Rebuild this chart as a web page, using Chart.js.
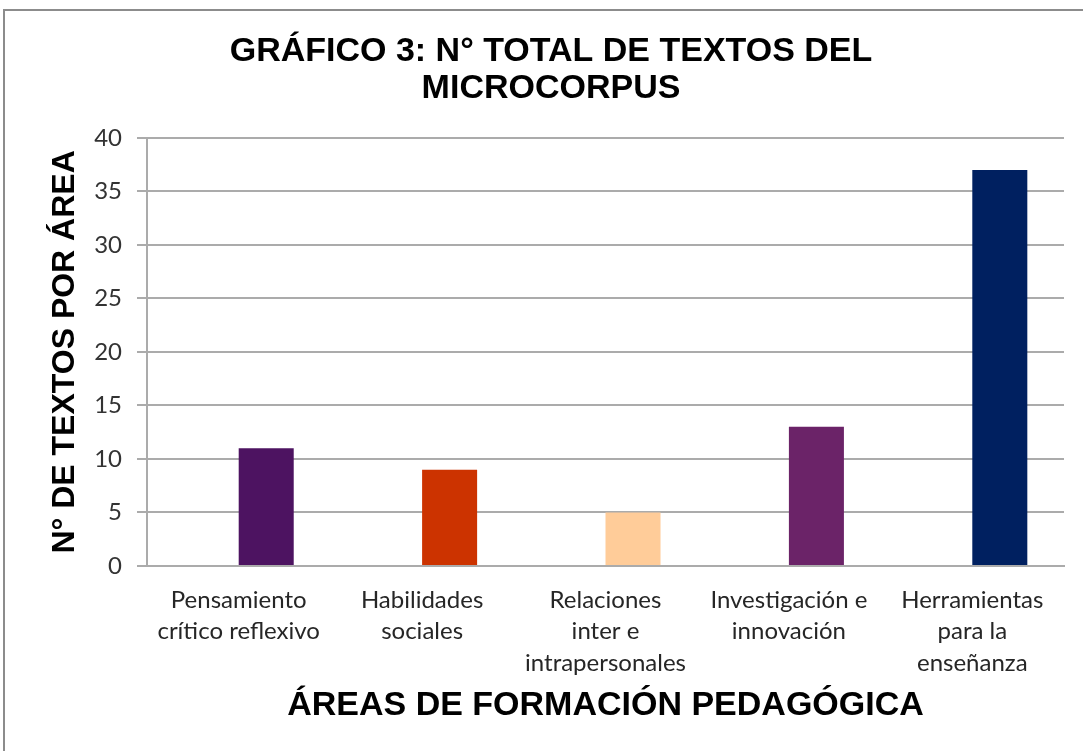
<!DOCTYPE html>
<html lang="es">
<head>
  <meta charset="UTF-8" />
  <title>Gráfico 3: N° total de textos del microcorpus</title>
  <style>
    body {
      margin: 0;
      background: #fff;
    }
  </style>
</head>
<body>
  <canvas id="grafico" width="1083" height="751"></canvas>

  <script src="https://cdn.jsdelivr.net/npm/chart.js"></script>
  <script>
    // datos
    const AREAS = [
      ['Pensamiento', 'crítico reflexivo'],
      ['Habilidades', 'sociales'],
      ['Relaciones', 'inter e', 'intrapersonales'],
      ['Investigación e', 'innovación'],
      ['Herramientas', 'para la', 'enseñanza']
    ];
    const SERIE_VACIA = [null, null, null, null, null];
    const TEXTOS = [11, 9, 5, 13, 37];
    const COLORES = ['#4d1361', '#cc3300', '#ffcc99', '#6b2368', '#002060'];
    const Y_MIN = 0;
    const Y_MAX = 40;
    const Y_PASO = 5;

    const TITULO = ['GRÁFICO 3: N° TOTAL DE TEXTOS DEL', 'MICROCORPUS'];
    const TITULO_Y = 'N° DE TEXTOS POR ÁREA';
    const TITULO_X = 'ÁREAS DE FORMACIÓN PEDAGÓGICA';

    const GRIS = '#ababab';

    // marco gris del gráfico de Excel
    const marco = {
      id: 'marco',
      beforeDraw(chart) {
        const ctx = chart.ctx;
        ctx.save();
        ctx.fillStyle = '#fff';
        ctx.fillRect(0, 0, chart.width, chart.height);
        ctx.strokeStyle = '#8c8c8c';
        ctx.lineWidth = 2;
        ctx.strokeRect(4, 10, chart.width + 20, chart.height + 20);
        ctx.restore();
      }
    };

    const ctx = document.getElementById('grafico').getContext('2d');
    new Chart(ctx, {
      type: 'bar',
      data: {
        labels: AREAS,
        datasets: [
          {
            label: 'Serie 1',
            data: SERIE_VACIA,
            categoryPercentage: 0.6,
            barPercentage: 1
          },
          {
            label: 'Serie 2',
            data: TEXTOS,
            backgroundColor: COLORES,
            borderWidth: 0,
            categoryPercentage: 0.6,
            barPercentage: 1
          }
        ]
      },
      options: {
        responsive: false,
        animation: false,
        layout: {
          padding: { top: 10, right: 19, bottom: 25, left: 38 }
        },
        plugins: {
          legend: { display: false },
          tooltip: { enabled: false },
          title: {
            display: true,
            text: TITULO,
            color: '#000',
            font: { family: 'Liberation Sans', size: 34, weight: 'bold', lineHeight: 1.1 },
            padding: { top: 23, bottom: 30 }
          }
        },
        scales: {
          x: {
            grid: { display: false, drawTicks: false },
            border: { display: true, color: GRIS, width: 2 },
            ticks: {
              color: '#262626',
              font: { family: 'Lato', size: 24, lineHeight: 1.32 },
              padding: 18,
              maxRotation: 0,
              autoSkip: false
            },
            title: {
              display: true,
              text: TITULO_X,
              color: '#000',
              font: { family: 'Liberation Sans', size: 34, weight: 'bold', lineHeight: 1.2 },
              padding: { top: 0, bottom: 0 }
            },
            afterFit(s) { s.height = 160; }
          },
          y: {
            min: Y_MIN,
            max: Y_MAX,
            ticks: {
              stepSize: Y_PASO,
              color: '#333',
              font: { family: 'Lato', size: 24 },
              padding: 15
            },
            grid: { color: GRIS, lineWidth: 2, tickLength: 10 },
            border: { color: GRIS, width: 2 },
            title: {
              display: true,
              text: TITULO_Y,
              color: '#000',
              font: { family: 'Liberation Sans', size: 32, weight: 'bold', lineHeight: 1.2 },
              padding: { top: 8, bottom: 0 }
            },
            afterFit(s) { s.width = 109; }
          }
        }
      },
      plugins: [marco]
    });
  </script>
</body>
</html>
